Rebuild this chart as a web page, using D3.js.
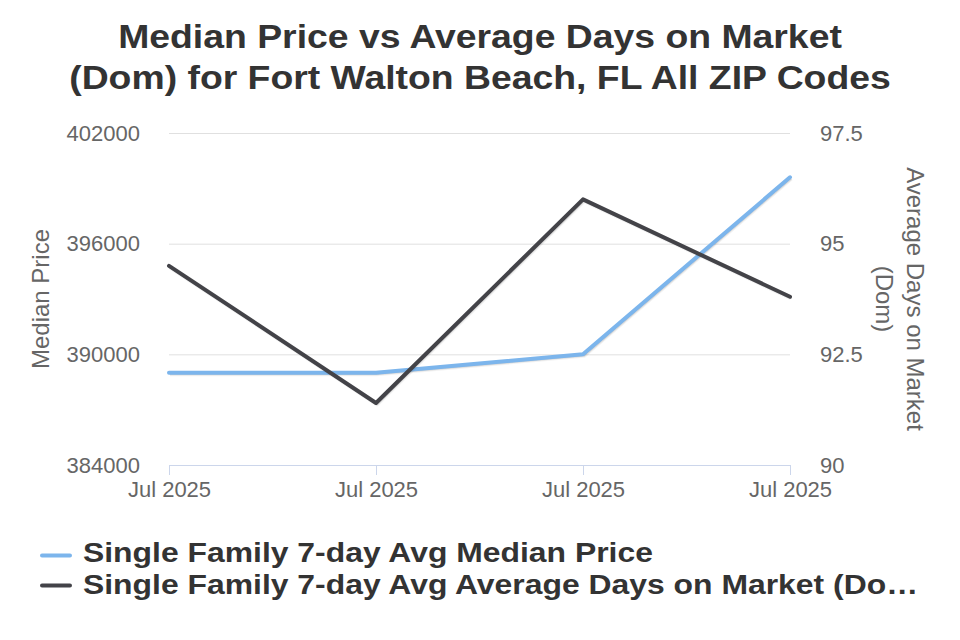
<!DOCTYPE html>
<html>
<head>
<meta charset="utf-8">
<script src="https://cdn.jsdelivr.net/npm/d3@7"></script>
<style>
  html, body { margin: 0; padding: 0; background: #fff; }
  svg { display: block; font-family: "Liberation Sans", Arial, sans-serif; }
</style>
</head>
<body>
<svg id="chart" width="960" height="640"></svg>
<script>
// ---- Data ----
const categories = ["Jul 2025", "Jul 2025", "Jul 2025", "Jul 2025"];
const medianPrice = [389000, 389000, 390000, 399600];
const daysOnMarket = [94.5, 91.4, 96.0, 93.8];
const leftTicks = [384000, 390000, 396000, 402000];
const rightTicks = [90, 92.5, 95, 97.5];
const seriesNames = [
  "Single Family 7-day Avg Median Price",
  "Single Family 7-day Avg Average Days on Market (Dom)"
];
const seriesColors = ["#7cb5ec", "#434348"];
const titleLines = ["Median Price vs Average Days on Market", "(Dom) for Fort Walton Beach, FL All ZIP Codes"];

// ---- Layout ----
const svg = d3.select("#chart");
const W = 960, H = 640;
const plot = { left: 169, right: 790, top: 133, bottom: 465 };
const FONT = "Liberation Sans, Arial, sans-serif";

// Title (slightly wide lettering as in the reference)
const titleTexts = svg.append("g").selectAll("text").data(titleLines).join("text")
  .attr("text-anchor", "middle")
  .attr("fill", "#333333")
  .attr("font-size", 34)
  .attr("font-weight", "bold")
  .text(d => d);
const tk = 724 / titleTexts.nodes()[0].getComputedTextLength();
titleTexts.attr("transform", (d, i) => `translate(${W / 2},${47.5 + i * 41}) scale(${tk},1)`);

// Scales
const idx = categories.map((d, i) => i);
const x = d3.scalePoint().domain(idx).range([plot.left, plot.right]);
const yL = d3.scaleLinear().domain([384000, 402000]).range([plot.bottom, plot.top]);
const yR = d3.scaleLinear().domain([90, 97.5]).range([plot.bottom, plot.top]);

// Gridlines
svg.append("g")
  .attr("transform", `translate(${plot.left},0)`)
  .call(d3.axisLeft(yL).tickValues(leftTicks).tickSize(-(plot.right - plot.left)).tickFormat(""))
  .call(g => g.select(".domain").remove())
  .call(g => g.selectAll("line").attr("stroke", "#e0e0e0").attr("stroke-width", 1));

// Left axis labels
svg.append("g")
  .attr("transform", `translate(${plot.left},0)`)
  .call(d3.axisLeft(yL).tickValues(leftTicks).tickSize(0).tickPadding(29).tickFormat(d3.format("d")))
  .call(g => g.select(".domain").remove())
  .call(g => g.selectAll("text").attr("fill", "#666666").attr("font-size", 22).attr("font-family", FONT));

// Right axis labels
svg.append("g")
  .attr("transform", `translate(${plot.right},0)`)
  .call(d3.axisRight(yR).tickValues(rightTicks).tickSize(0).tickPadding(30).tickFormat(d => String(d)))
  .call(g => g.select(".domain").remove())
  .call(g => g.selectAll("text").attr("fill", "#666666").attr("font-size", 22).attr("font-family", FONT));

// Axis titles
svg.append("text")
  .attr("transform", `translate(49,${(plot.top + plot.bottom) / 2}) rotate(-90)`)
  .attr("text-anchor", "middle")
  .attr("fill", "#666666")
  .attr("font-size", 24)
  .text("Median Price");

const rt = svg.append("text")
  .attr("transform", `translate(907,${(plot.top + plot.bottom) / 2}) rotate(90)`)
  .attr("text-anchor", "middle")
  .attr("fill", "#666666")
  .attr("font-size", 24);
rt.append("tspan").attr("x", 0).attr("y", 0).text("Average Days on Market");
rt.append("tspan").attr("x", 0).attr("y", 31).text("(Dom)");

// X axis
svg.append("g")
  .attr("transform", `translate(0,${plot.bottom})`)
  .call(d3.axisBottom(x).tickSize(10).tickPadding(6).tickFormat(i => categories[i]))
  .call(g => g.select(".domain").attr("stroke", "#ccd6eb").attr("d", `M${plot.left},0.5H${plot.right}`))
  .call(g => g.selectAll("line").attr("stroke", "#ccd6eb"))
  .call(g => g.selectAll("text").attr("fill", "#666666").attr("font-size", 22).attr("font-family", FONT));

// Lines
const lineL = d3.line().x((d, i) => x(i)).y(d => yL(d));
const lineR = d3.line().x((d, i) => x(i)).y(d => yR(d));
const seriesData = [
  { path: lineL(medianPrice), color: seriesColors[0] },
  { path: lineR(daysOnMarket), color: seriesColors[1] }
];
const sg = svg.append("g");
seriesData.forEach(s => {
  [5, 3, 1].forEach((w, k) => {
    sg.append("path").attr("d", s.path).attr("fill", "none")
      .attr("stroke", "#000").attr("stroke-opacity", [0.05, 0.1, 0.15][k])
      .attr("stroke-width", w).attr("transform", "translate(1,1)")
      .attr("stroke-linejoin", "round");
  });
  sg.append("path").attr("d", s.path).attr("fill", "none")
    .attr("stroke", s.color).attr("stroke-width", 4)
    .attr("stroke-linejoin", "round").attr("stroke-linecap", "round");
});

// Legend
const maxTextW = 842;
const lg = svg.append("g");
const legendTexts = seriesNames.map((name, i) => {
  const sy = 555.5 + i * 30;
  lg.append("line").attr("x1", 42).attr("x2", 70).attr("y1", sy).attr("y2", sy)
    .attr("stroke", seriesColors[i]).attr("stroke-width", 4).attr("stroke-linecap", "round");
  return lg.append("text")
    .attr("fill", "#333333").attr("font-size", 28).attr("font-weight", "bold").text(name);
});
const lk = 570 / legendTexts[0].node().getComputedTextLength();
legendTexts.forEach((t, i) => {
  t.attr("transform", `translate(83,${562 + i * 31.5}) scale(${lk},1)`);
  const name = seriesNames[i];
  if (t.node().getComputedTextLength() * lk > maxTextW) {
    let s = name;
    while (s.length > 0) {
      s = s.slice(0, -1);
      t.text(s.trimEnd() + "…");
      if (t.node().getComputedTextLength() * lk <= maxTextW) break;
    }
  }
});
</script>
</body>
</html>
